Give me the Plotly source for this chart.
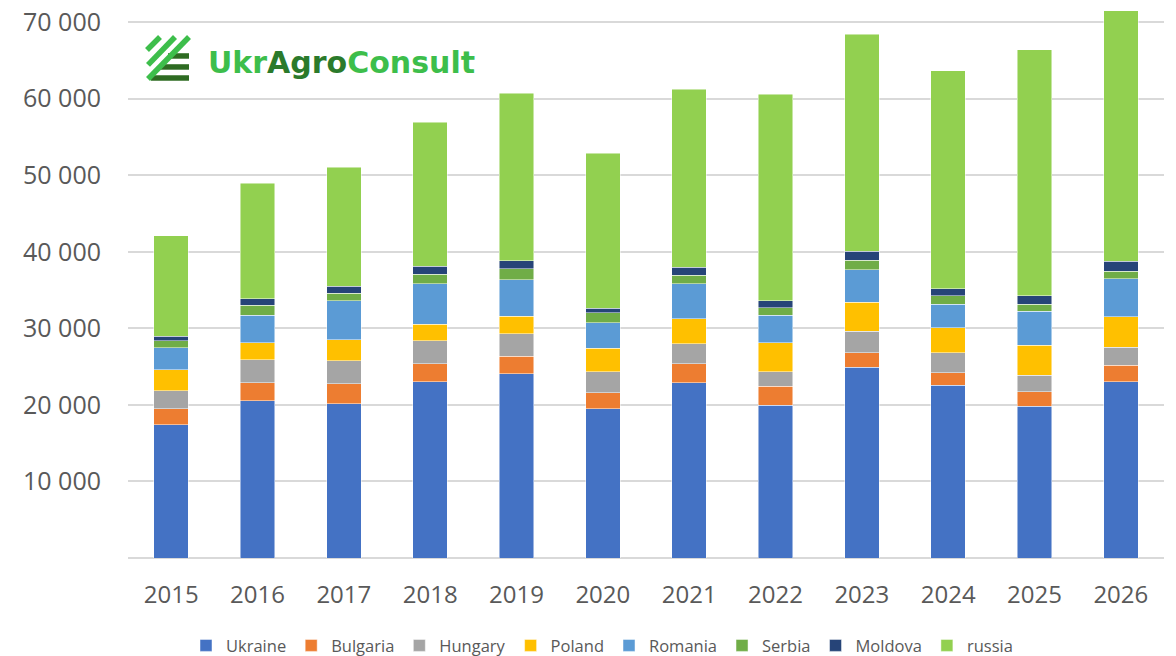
import plotly.graph_objects as go

years = ["2015", "2016", "2017", "2018", "2019", "2020",
         "2021", "2022", "2023", "2024", "2025", "2026"]

ukraine = [17400, 20530, 20140, 23010, 24050, 19520, 22880, 19970, 24940, 22570, 19830, 23040]
bulgaria = [2080, 2350, 2610, 2350, 2310, 2050, 2480, 2480, 1860, 1630, 1910, 2140]
hungary = [2350, 3040, 3000, 3000, 2910, 2780, 2610, 1860, 2830, 2600, 2140, 2360]
poland = [2740, 2180, 2780, 2180, 2310, 3060, 3300, 3790, 3770, 3300, 3900, 4000]
romania = [2910, 3610, 5050, 5260, 4780, 3300, 4530, 3610, 4220, 3020, 4460, 4920]
serbia = [880, 1310, 1000, 1260, 1430, 1300, 1130, 990, 1300, 1110, 880, 980]
moldova = [610, 860, 920, 1080, 1050, 620, 1050, 920, 1120, 930, 1160, 1300]
russia = [13090, 15100, 15560, 18800, 21880, 20260, 23270, 26930, 28380, 28480, 32100, 32750]

y_tickvals = [10000, 20000, 30000, 40000, 50000, 60000, 70000]
y_ticktext = ["10 000", "20 000", "30 000", "40 000", "50 000", "60 000", "70 000"]

series = [
    ("Ukraine", ukraine, "#4472C4"),
    ("Bulgaria", bulgaria, "#ED7D31"),
    ("Hungary", hungary, "#A5A5A5"),
    ("Poland", poland, "#FFC000"),
    ("Romania", romania, "#5B9BD5"),
    ("Serbia", serbia, "#70AD47"),
    ("Moldova", moldova, "#264478"),
    ("russia", russia, "#92D050"),
]

fig = go.Figure()
for name, vals, color in series:
    fig.add_trace(go.Bar(
        x=years, y=vals, name=name,
        marker=dict(color=color, line=dict(color="rgba(255,255,255,0.6)", width=0.8)),
    ))

# plot area in pixels: x 128..1164, y 0..558.3
L, R, T, B = 128, 1164, 0, 558.3


def px(x):
    return (x - L) / (R - L)


def py(y):
    return (B - y) / (B - T)


# logo icon: dark horizontal bars, then bright diagonal stripes
shapes = []
for x0, yy in [(168, 56), (160, 67), (151, 78)]:
    shapes.append(dict(type="line", xref="paper", yref="paper",
                       x0=px(x0), x1=px(189), y0=py(yy), y1=py(yy),
                       line=dict(color="#2E6B22", width=5.5)))
for (x0, y0), (x1, y1) in [((147, 50), (160, 37)), ((148, 65), (175, 37)), ((148, 79), (189, 37))]:
    shapes.append(dict(type="line", xref="paper", yref="paper",
                       x0=px(x0), x1=px(x1), y0=py(y0), y1=py(y1),
                       line=dict(color="#3DBE4B", width=5.5)))

fig.update_layout(
    barmode="stack",
    bargap=0.6,
    width=1176, height=656,
    margin=dict(l=L, r=1176 - R, t=T, b=656 - B, autoexpand=False),
    paper_bgcolor="white",
    plot_bgcolor="white",
    font=dict(family="Open Sans", color="#595959"),
    shapes=shapes,
    legend=dict(orientation="h", x=px(186), xanchor="left", y=py(646), yanchor="middle",
                font=dict(size=16.5, color="#595959"), traceorder="normal"),
    annotations=[dict(
        xref="paper", yref="paper", x=px(206), y=py(63), xanchor="left", yanchor="middle",
        showarrow=False,
        text="<b><span style='color:#3DBE4B'>Ukr</span><span style='color:#2B7A2B'>Agro</span>"
             "<span style='color:#3DBE4B'>Consult</span></b>",
        font=dict(family="DejaVu Sans", size=30),
    )],
)

fig.update_xaxes(
    tickfont=dict(size=24, color="#595959"),
    ticklabelstandoff=20,
    showgrid=False, showline=False,
)
fig.update_yaxes(
    range=[0, 72885],
    tickvals=y_tickvals, ticktext=y_ticktext,
    tickfont=dict(size=25, color="#595959"),
    ticklabelstandoff=26,
    showgrid=True, gridcolor="#D9D9D9", gridwidth=2,
    zeroline=True, zerolinecolor="#D9D9D9", zerolinewidth=2,
    showline=False,
)

fig.write_html("out.html", config={"displayModeBar": False},
               post_script="document.body.style.margin='0';")
